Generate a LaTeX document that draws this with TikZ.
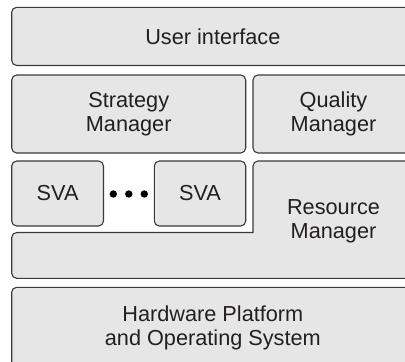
\documentclass[tikz,border=0pt]{standalone}
\usepackage{fontspec}
\setmainfont{Liberation Sans}
\definecolor{boxgray}{RGB}{230,230,231}
\definecolor{linegray}{RGB}{58,58,58}
\definecolor{textgray}{RGB}{35,31,32}
\begin{document}
\begin{tikzpicture}[x=1pt,y=-1pt,
  labeltext/.style={inner sep=0pt, outer sep=0pt, text=textgray, align=center,
    font=\fontsize{21.7}{24}\selectfont},
  layer/.style={labeltext, draw=linegray, fill=boxgray, line width=1.1pt,
    rounded corners=5pt, anchor=north west},
  dotmark/.style={circle, fill=black, inner sep=0pt, minimum size=7.4pt}]
  \useasboundingbox (0,0) rectangle (405,362);
  \clip (0,0) rectangle (405,362);

  % top layer
  \node[layer, minimum width=402.3pt, minimum height=58.2pt] (ui) at (11.7,7.3) {User interface};

  % managers
  \node[layer, minimum width=234pt, minimum height=78pt] (strategy) at (11.7,75) {Strategy\\Manager};
  \node[layer, minimum width=161pt, minimum height=78pt] (quality) at (253,75) {Quality\\Manager};

  % service agents
  \node[layer, minimum width=91.8pt, minimum height=65pt] (sva1) at (11.7,161) {SVA};
  \node[layer, minimum width=91.4pt, minimum height=65pt] (sva2) at (154.3,161) {SVA};
  \node[dotmark] (dot1) at (113.3,194) {};
  \node[dotmark] (dot2) at (128.8,194) {};
  \node[dotmark] (dot3) at (144.3,194) {};

  % resource manager wraps under the agents
  \draw[draw=linegray, fill=boxgray, line width=1.1pt]
    (253,232.5) [rounded corners=5pt] -- (253,161) -- (414,161) -- (414,278.3)
    -- (11.7,278.3) -- (11.7,232.5) [sharp corners] -- cycle;
  \node[labeltext] (resource) at (333.5,221) {Resource\\Manager};

  % platform layer
  \node[layer, minimum width=402.3pt, minimum height=81pt] (hw) at (11.7,287.3) {Hardware Platform\\and Operating System};
\end{tikzpicture}
\end{document}
